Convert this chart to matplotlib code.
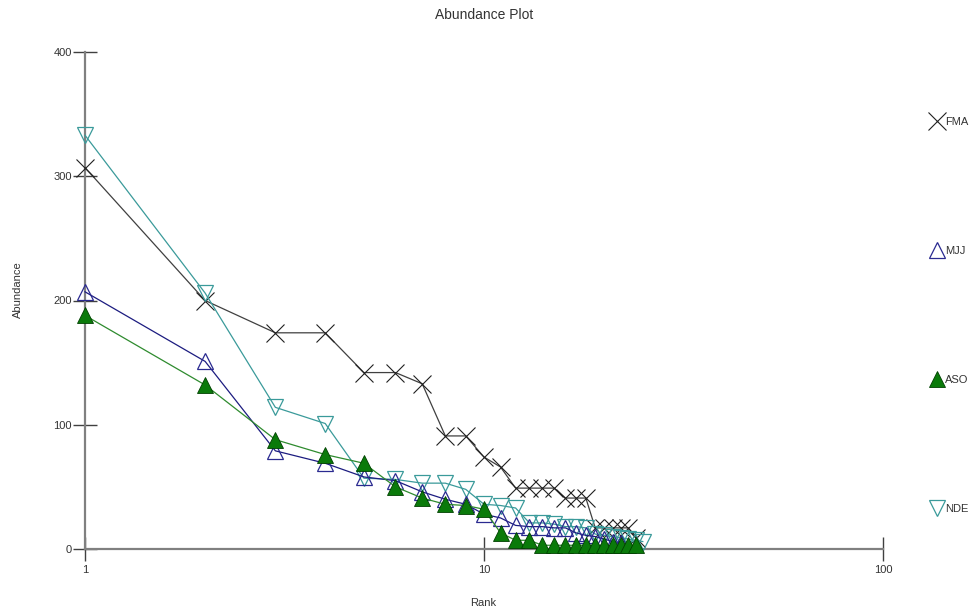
import matplotlib
matplotlib.use("Agg")
import matplotlib.pyplot as plt

plt.rcParams['font.family'] = ['Liberation Sans', 'DejaVu Sans']

fma = [307, 200, 174, 174, 142, 142, 133, 91, 91, 74, 66, 49, 49, 49, 49,
       41, 41, 41, 17, 17, 17, 17, 17, 9]
mjj = [207, 151, 79, 69, 58, 55, 46, 40, 36, 28, 25, 19, 18, 18, 17, 17,
       13, 11, 10, 8, 6, 5]
aso = [188, 132, 88, 76, 69, 50, 41, 36, 35, 32, 13, 7, 7, 3, 3, 3, 3, 3,
       3, 3, 3, 3, 3, 3]
nde = [333, 206, 114, 101, 57, 56, 53, 53, 48, 36, 35, 33, 21, 21, 20, 18,
       18, 17, 12, 11, 10, 9, 8, 7, 6]
names = ["FMA", "MJJ", "ASO", "NDE"]
xticks = [1, 10, 100]
yticks = [0, 100, 200, 300, 400]

fig = plt.figure(figsize=(9.76, 6.10), dpi=100)
ax = fig.add_axes([85/976, 1-549/610, (883-85)/976, (549-52)/610])

def ranks(v):
    return list(range(1, len(v) + 1))

h1, = ax.plot(ranks(fma), fma, color='#404040', lw=0.9, marker='x', ms=13,
              mew=0.8, mec='#202020', clip_on=False, zorder=3)
h2, = ax.plot(ranks(mjj), mjj, color='#1c1c80', lw=0.9, marker='^', ms=11,
              mfc='none', mec='#2a2a90', mew=0.9, clip_on=False, zorder=4)
h3, = ax.plot(ranks(aso), aso, color='#2e8b2e', lw=0.9, marker='^', ms=11,
              mfc='#0a7a0a', mec='#004000', mew=0.6, clip_on=False, zorder=5)
h4, = ax.plot(ranks(nde), nde, color='#3a9a9a', lw=0.9, marker='v', ms=11,
              mfc='none', mec='#3a9a9a', mew=0.9, clip_on=False, zorder=3)

ax.set_xscale('log')
ax.set_xlim(1, 100)
ax.set_ylim(0, 400)
ax.set_xticks(xticks)
ax.set_xticklabels([str(t) for t in xticks])
ax.minorticks_off()
ax.set_yticks(yticks)
ax.set_yticklabels([str(t) for t in yticks])

for s in ['top', 'right']:
    ax.spines[s].set_visible(False)
for s in ['left', 'bottom']:
    ax.spines[s].set_color('#808080')
    ax.spines[s].set_linewidth(1.6)
ax.tick_params(axis='both', direction='inout', length=17, width=1,
               color='#404040', labelsize=8, labelcolor='#333333')
ax.tick_params(axis='y', pad=1)
ax.tick_params(axis='x', pad=3)

fig.text(484/976, 1-15/610, "Abundance Plot", ha='center', va='center',
         fontsize=10, color='#333333')
fig.text(18/976, 1-290/610, "Abundance", rotation=90, ha='center',
         va='center', fontsize=8, color='#333333')
fig.text(483/976, 1-603/610, "Rank", ha='center', va='center', fontsize=8,
         color='#333333')

leg = ax.legend([h1, h2, h3, h4], names, loc='upper left',
                bbox_to_anchor=(931/976, 1-117/610),
                bbox_transform=fig.transFigure, frameon=False, fontsize=8,
                labelspacing=10.7, handlelength=1.0, handletextpad=0.3,
                numpoints=1, borderpad=0, borderaxespad=0)
for lh in leg.legend_handles:
    lh.set_linestyle('none')
for t in leg.get_texts():
    t.set_color('#333333')

fig.savefig('out.png', dpi=100)
